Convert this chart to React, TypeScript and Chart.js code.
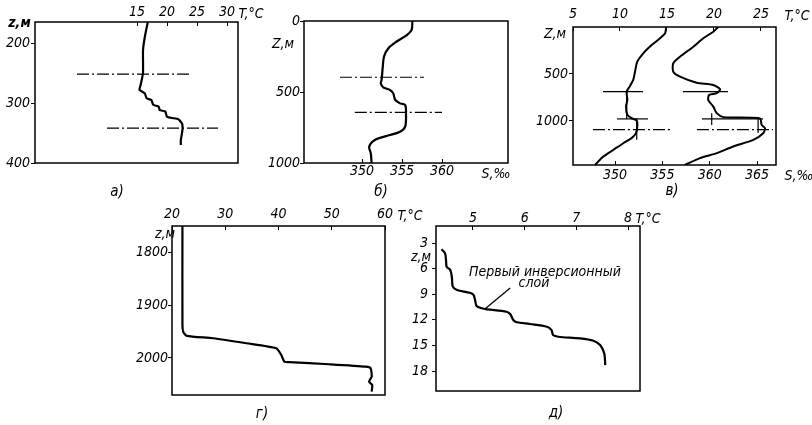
import React, { useEffect, useRef } from "react";
import { Chart, registerables } from "chart.js";
Chart.register(...registerables);

const W = 812;
const H = 425;
const FAMILY = "'DejaVu Sans Condensed', 'Liberation Sans Narrow', 'DejaVu Sans', sans-serif";

// ---------- Panel а) : temperature profile ----------
const aDepth = [165, 190, 212, 250, 270, 278, 284, 292, 295, 303, 306, 312, 314, 323, 325, 327, 334, 342, 350, 362, 370];
const aTemp = [16.8, 16.3, 16.0, 16.0, 15.6, 15.4, 16.3, 16.6, 17.4, 17.7, 18.6, 18.8, 19.7, 20.0, 20.8, 21.9, 22.5, 22.6, 22.5, 22.3, 22.3];
const aTicksT = [15, 20, 25, 30];
const aTicksZ = [200, 300, 400];
const aMarkDepth = [252, 342];
const aMarkFrom = [5, 10];
const aMarkTo = [23.8, 28.5];

// ---------- Panel б) : salinity profile ----------
const bDepth = [0, 63, 99, 146, 192, 251, 322, 415, 439, 467, 486, 509, 556, 580, 592, 650, 744, 780, 803, 838, 885, 932, 1000];
const bSal = [356.3, 356.2, 355.6, 354.3, 353.3, 352.75, 352.6, 352.45, 352.35, 352.65, 353.5, 353.9, 354.15, 354.75, 355.4, 355.5, 355.4, 354.75, 353.5, 351.6, 350.9, 351.1, 351.2];
const bTicksS = [350, 355, 360];
const bTicksZ = [0, 500, 1000];
const bMarkDepth = [396, 643];
const bMarkFrom = [347.25, 349.1];
const bMarkTo = [357.75, 360];

// ---------- Panel в) : two profiles (values on the S axis) ----------
const cDepthL = [0, 67, 120, 192, 280, 369, 476, 564, 628, 689, 777, 848, 936, 971, 997, 1061, 1131, 1184, 1238, 1309, 1380, 1451, 1470];
const cValL = [355.39, 355.29, 354.75, 353.87, 352.98, 352.35, 352.11, 351.92, 351.58, 351.23, 351.3, 351.16, 351.3, 351.75, 352.29, 352.35, 352.21, 351.75, 350.87, 349.82, 348.76, 348.06, 347.89];
const cDepthR = [0, 50, 120, 210, 316, 386, 476, 529, 593, 617, 663, 705, 723, 777, 848, 918, 960, 975, 1043, 1078, 1131, 1202, 1273, 1344, 1397, 1470];
const cValR = [360.9, 360.38, 359.32, 358.27, 356.86, 356.15, 356.15, 356.86, 358.62, 360.38, 361.09, 360.74, 359.95, 359.84, 360.38, 360.74, 361.44, 365.31, 365.48, 365.84, 365.65, 364.6, 362.48, 360.74, 358.97, 357.37];
const cTicksT = [5, 10, 15, 20, 25];
const cTicksS = [350, 355, 360, 365];
const cTicksZ = [500, 1000];
const cHDepth = [688, 688, 979, 979];
const cHFrom = [348.73, 357.17, 350.21, 359.18];
const cHTo = [352.96, 361.93, 353.48, 365.62];
const cDashDepth = [1093, 1093];
const cDashFrom = [347.67, 358.65];
const cDashTo = [356.12, 366.68];
const cVVal = [351.23, 352.29, 360.21, 365.11];
const cVFrom = [688, 971, 918, 960];
const cVTo = [979, 1200, 1043, 1128];

// ---------- Panel г) ----------
const dDepth = [1749, 1937, 1950, 1958, 1962.5, 1972, 1981.6, 1994, 2007, 2008, 2012, 2016.6, 2019.6, 2035.6, 2045, 2051.5, 2064];
const dTemp = [21.96, 21.96, 22.1, 22.75, 27.7, 33.96, 39.57, 40.5, 41.1, 42.0, 49.5, 56.4, 57.3, 57.5, 57.0, 57.6, 57.5];
const dTicksT = [20, 30, 40, 50, 60];
const dTicksZ = [1800, 1900, 2000];

// ---------- Panel д) ----------
const eDepth = [3.74, 4.21, 5.19, 5.78, 6.16, 6.95, 8.12, 8.51, 8.83, 9.09, 9.68, 10.38, 10.65, 10.77, 11.05, 11.32, 12.02, 12.29, 12.49, 12.81, 13.2, 13.78, 13.98, 14.17, 14.45, 14.95, 15.93, 17.3];
const eTemp = [4.39, 4.46, 4.48, 4.49, 4.56, 4.59, 4.61, 4.69, 4.94, 5.01, 5.04, 5.07, 5.17, 5.27, 5.65, 5.72, 5.78, 5.85, 6.1, 6.43, 6.52, 6.55, 6.65, 7.07, 7.33, 7.46, 7.54, 7.56];
const eTicksT = [5, 6, 7, 8];
const eTicksZ = [3, 6, 9, 12, 15, 18];
const eLeaderT = [5.72, 5.23];
const eLeaderZ = [8.27, 10.73];

// ---------- helpers ----------
type Box = { l: number; t: number; r: number; b: number };

const tickFont = { family: FAMILY, size: 14, style: "italic" as const };

function xAxis(pos: "top" | "bottom", min: number, max: number, ticks: number[], pad: number, size: number) {
  return {
    type: "linear",
    position: pos,
    min,
    max,
    afterBuildTicks: (s: any) => {
      s.ticks = ticks.map((v) => ({ value: v }));
    },
    afterFit: (s: any) => {
      s.height = size;
    },
    grid: { display: true, drawOnChartArea: false, drawTicks: true, tickLength: -4, color: "#000", lineWidth: 1 },
    border: { display: false },
    ticks: { color: "#000", font: tickFont, padding: pad, maxRotation: 0, minRotation: 0, autoSkip: false, callback: (v: any) => String(v) },
  };
}

function yAxis(min: number, max: number, ticks: number[], pad: number, size: number, tl = 4) {
  return {
    type: "linear",
    position: "left",
    reverse: true,
    min,
    max,
    afterBuildTicks: (s: any) => {
      s.ticks = ticks.map((v) => ({ value: v }));
    },
    afterFit: (s: any) => {
      s.width = size;
    },
    grid: { display: true, drawOnChartArea: false, drawTicks: true, tickLength: tl, color: "#000", lineWidth: 1 },
    border: { display: false },
    ticks: { color: "#000", font: tickFont, padding: pad, autoSkip: false, callback: (v: any) => String(v) },
  };
}

const framePlugin = {
  id: "frame",
  afterDraw(chart: any) {
    const { ctx, chartArea: a } = chart;
    ctx.save();
    ctx.strokeStyle = "#000";
    ctx.lineWidth = 1.5;
    ctx.strokeRect(a.left, a.top, a.right - a.left, a.bottom - a.top);
    ctx.restore();
  },
};

function pts(xs: number[], ys: number[]) {
  return xs.map((x, i) => ({ x, y: ys[i] }));
}

function curve(xs: number[], ys: number[], width = 2.2, tension = 0.25) {
  return { data: pts(xs, ys), showLine: true, borderColor: "#000", borderWidth: width, pointRadius: 0, tension, fill: false };
}

function seg(x1: number, x2: number, y1: number, y2: number, dash: number[] = [], width = 1.2) {
  return {
    data: [{ x: x1, y: y1 }, { x: x2, y: y2 }],
    showLine: true,
    borderColor: "#000",
    borderWidth: width,
    pointRadius: 0,
    borderDash: dash,
    tension: 0,
    fill: false,
  };
}

const DASHDOT = [12, 3, 2, 3];

// sides that carry an axis get padding 0 (the axis box fills that margin)
function config(box: Box, axisSides: string[], scales: any, datasets: any[]) {
  const pad = {
    left: axisSides.includes("left") ? 0 : box.l,
    top: axisSides.includes("top") ? 0 : box.t,
    right: W - box.r,
    bottom: axisSides.includes("bottom") ? 0 : H - box.b,
  };
  return {
    type: "scatter",
    data: { datasets },
    options: {
      animation: false,
      responsive: false,
      maintainAspectRatio: false,
      events: [],
      layout: { padding: pad },
      plugins: { legend: { display: false }, tooltip: { enabled: false }, title: { display: false } },
      scales,
    },
    plugins: [framePlugin],
  } as any;
}

const boxA: Box = { l: 35, t: 22, r: 238, b: 163 };
const boxB: Box = { l: 304, t: 21, r: 508, b: 163 };
const boxC: Box = { l: 573, t: 27, r: 776, b: 165 };
const boxD: Box = { l: 172, t: 226, r: 385, b: 395 };
const boxE: Box = { l: 436, t: 226, r: 640, b: 391 };

const makeA = () =>
  config(
    boxA,
    ["top", "left"],
    { x: xAxis("top", -2, 31.83, aTicksT, 5, boxA.t), y: yAxis(165, 400, aTicksZ, 1, boxA.l) },
    [
      curve(aTemp, aDepth, 2.2, 0.15),
      ...aMarkDepth.map((d, i) => seg(aMarkFrom[i], aMarkTo[i], d, d, DASHDOT)),
    ]
  );

const makeB = () =>
  config(
    boxB,
    ["bottom", "left"],
    { x: xAxis("bottom", 342.75, 368.25, bTicksS, 4, H - boxB.b), y: yAxis(0, 1000, bTicksZ, 0, boxB.l) },
    [
      curve(bSal, bDepth, 2.2, 0.3),
      ...bMarkDepth.map((d, i) => seg(bMarkFrom[i], bMarkTo[i], d, d, DASHDOT)),
    ]
  );

const makeC = () =>
  config(
    boxC,
    ["top", "bottom", "left"],
    {
      x: xAxis("bottom", 345.56, 367.0, cTicksS, 6, H - boxC.b),
      xT: xAxis("top", 5, 26.6, cTicksT, 8, boxC.t),
      y: yAxis(0, 1470, cTicksZ, 1, boxC.l),
    },
    [
      curve(cValL, cDepthL, 2.0, 0.25),
      curve(cValR, cDepthR, 2.0, 0.25),
      ...cHDepth.map((d, i) => seg(cHFrom[i], cHTo[i], d, d)),
      ...cDashDepth.map((d, i) => seg(cDashFrom[i], cDashTo[i], d, d, DASHDOT)),
      ...cVVal.map((v, i) => seg(v, v, cVFrom[i], cVTo[i])),
    ]
  );

const makeD = () =>
  config(
    boxD,
    ["top", "left"],
    { x: xAxis("top", 20, 60, dTicksT, 7, boxD.t), y: yAxis(1749, 2070.5, dTicksZ, 0, boxD.l) },
    [curve(dTemp, dDepth, 2.2, 0.2)]
  );

const makeE = () =>
  config(
    boxE,
    ["top", "left"],
    { x: xAxis("top", 4.284, 8.232, eTicksT, 3, boxE.t), y: yAxis(1.008, 20.34, eTicksZ, 4, boxE.l) },
    [curve(eTemp, eDepth, 2.2, 0.3), seg(eLeaderT[0], eLeaderT[1], eLeaderZ[0], eLeaderZ[1], [], 1.3)]
  );

function Panel({ make }: { make: () => any }) {
  const ref = useRef<HTMLCanvasElement | null>(null);
  useEffect(() => {
    if (!ref.current) return;
    const c = new Chart(ref.current, make());
    return () => c.destroy();
  }, []);
  return (
    <canvas
      ref={ref}
      width={W}
      height={H}
      style={{ position: "absolute", left: 0, top: 0, width: W, height: H }}
    />
  );
}

type Lab = { t: string; x: number; y: number; bold?: boolean; size?: number };
const labels: Lab[] = [
  { t: "z,м", x: 19.5, y: 22, bold: true },
  { t: "T,°C", x: 251, y: 13 },
  { t: "а)", x: 117, y: 191, size: 15 },
  { t: "Z,м", x: 283, y: 43 },
  { t: "S,‰", x: 496, y: 173 },
  { t: "б)", x: 381, y: 191, size: 15 },
  { t: "T,°C", x: 797, y: 15 },
  { t: "Z,м", x: 555, y: 33 },
  { t: "S,‰", x: 799, y: 175 },
  { t: "в)", x: 672, y: 190, size: 15 },
  { t: "z,м", x: 165, y: 233 },
  { t: "T,°C", x: 410, y: 215 },
  { t: "г)", x: 262, y: 413, size: 15 },
  { t: "T,°C", x: 648, y: 218 },
  { t: "z,м", x: 421, y: 256 },
  { t: "д)", x: 556, y: 412, size: 15 },
  { t: "Первый инверсионный", x: 545, y: 271 },
  { t: "слой", x: 534, y: 282 },
];

export default function App() {
  return (
    <div style={{ position: "fixed", left: 0, top: 0, width: W, height: H, background: "#fff", overflow: "hidden" }}>
      <Panel make={makeA} />
      <Panel make={makeB} />
      <Panel make={makeC} />
      <Panel make={makeD} />
      <Panel make={makeE} />
      {labels.map((l, i) => (
        <div
          key={i}
          style={{
            position: "absolute",
            left: l.x,
            top: l.y,
            transform: "translate(-50%, -50%)",
            whiteSpace: "nowrap",
            fontFamily: FAMILY,
            fontStyle: "italic",
            fontWeight: l.bold ? "bold" : "normal",
            fontSize: l.size || 14,
            lineHeight: 1,
            color: "#000",
          }}
        >
          {l.t}
        </div>
      ))}
    </div>
  );
}
